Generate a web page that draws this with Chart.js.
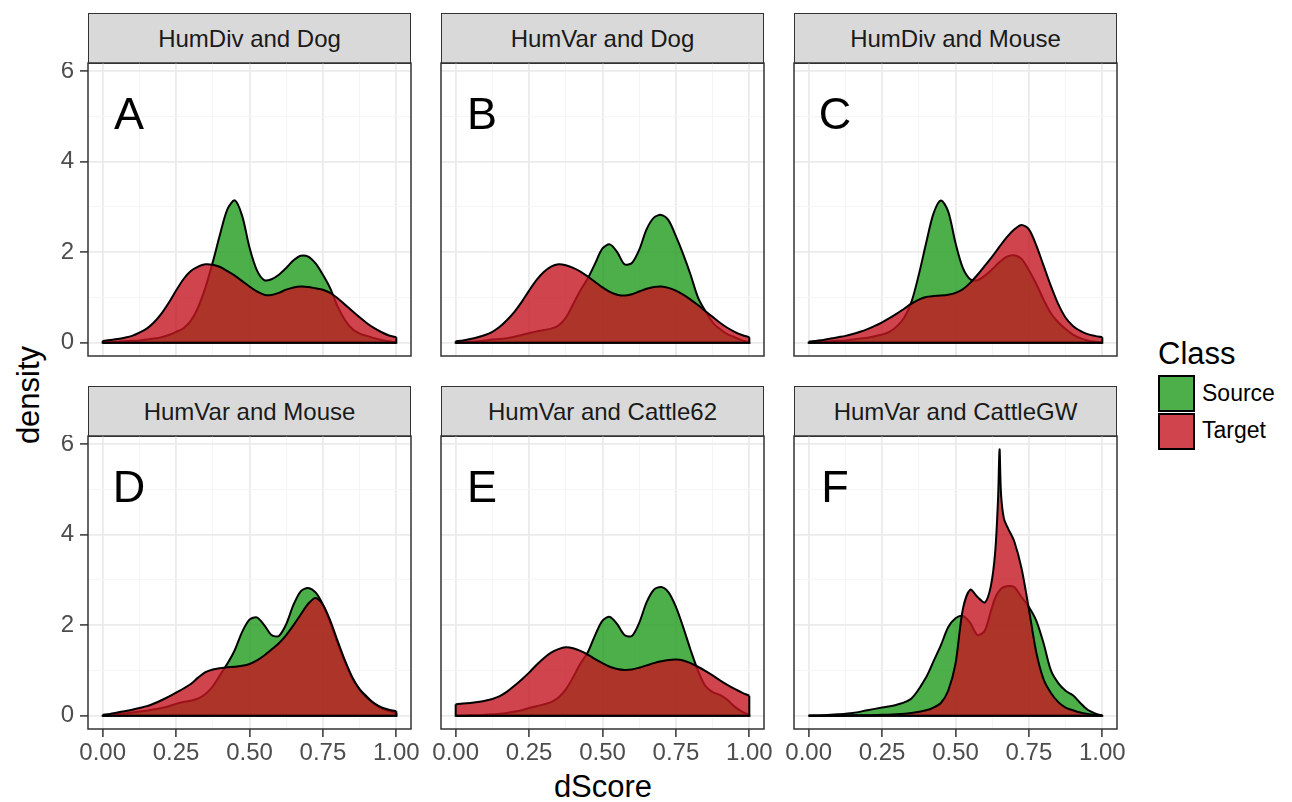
<!DOCTYPE html>
<html>
<head>
<meta charset="utf-8">
<script src="https://cdn.jsdelivr.net/npm/chart.js@4.4.1/dist/chart.umd.min.js"></script>
<style>
    body { margin: 0; background: #fff; width: 1292px; height: 802px; position: relative; overflow: hidden;
           font-family: "Liberation Sans", Arial, sans-serif; }
    canvas { position: absolute; }
    .strip { position: absolute; box-sizing: border-box; width: 323px; height: 51px; background: #d9d9d9;
             border: 1.5px solid #333; display: flex; align-items: center; justify-content: center;
             font-size: 24px; color: #1a1a1a; }
    .txt { position: absolute; white-space: nowrap; color: #000; }
    .key { position: absolute; box-sizing: border-box; width: 37px; height: 37px; border: 2px solid #000; }
</style>
</head>
<body>
<div class="txt" style="left:28px; top:395px; font-size:31px; line-height:31px; transform:translate(-50%,-50%) rotate(-90deg);">density</div>
<div class="txt" style="left:603px; top:771px; font-size:31px; line-height:31px; transform:translateX(-50%);">dScore</div>
<div class="txt" style="left:1158px; top:338px; font-size:31px; line-height:31px;">Class</div>
<div class="key" style="left:1158px; top:375px; background:rgba(31,155,29,0.8);"></div>
<div class="key" style="left:1158px; top:413px; background:rgba(196,21,32,0.8);"></div>
<div class="txt" style="left:1202px; top:382px; font-size:23px; line-height:23px;">Source</div>
<div class="txt" style="left:1202px; top:419px; font-size:23px; line-height:23px;">Target</div>

<script>
// x grid of the density estimates (panels A-E)
const dScore = [0, 0.025, 0.05, 0.075, 0.1, 0.125, 0.15, 0.175, 0.2, 0.225, 0.25, 0.275, 0.3, 0.325, 0.35, 0.375,
    0.4, 0.425, 0.45, 0.475, 0.5, 0.525, 0.55, 0.575, 0.6, 0.625, 0.65, 0.675, 0.7, 0.725, 0.75, 0.775, 0.8,
    0.825, 0.85, 0.875, 0.9, 0.925, 0.95, 0.975, 1];

const sourceA = [0, 0.01, 0.02, 0.03, 0.04, 0.05, 0.07, 0.09, 0.12, 0.17, 0.24, 0.32, 0.48, 0.78, 1.22, 1.78, 2.4, 2.95, 3.14, 2.8,
    2.1, 1.6, 1.38, 1.4, 1.5, 1.65, 1.82, 1.92, 1.9, 1.75, 1.5, 1.2, 0.8, 0.5, 0.3, 0.2, 0.15, 0.1, 0.06, 0.03, 0];
const targetA = [0.04, 0.06, 0.08, 0.11, 0.15, 0.22, 0.31, 0.45, 0.64, 0.88, 1.15, 1.4, 1.58, 1.68, 1.73, 1.72, 1.67, 1.58, 1.48, 1.36,
    1.24, 1.13, 1.06, 1.05, 1.1, 1.17, 1.22, 1.24, 1.23, 1.2, 1.17, 1.1, 0.98, 0.84, 0.7, 0.56, 0.43, 0.32, 0.23, 0.16, 0.12];

const sourceB = [0, 0.01, 0.02, 0.03, 0.05, 0.07, 0.08, 0.1, 0.13, 0.17, 0.21, 0.25, 0.28, 0.31, 0.38, 0.55, 0.85, 1.16, 1.42, 1.75,
    2.08, 2.17, 2.0, 1.73, 1.76, 2.05, 2.5, 2.76, 2.82, 2.7, 2.35, 1.95, 1.5, 1.0, 0.7, 0.45, 0.3, 0.19, 0.12, 0.05, 0.01];
const targetB = [0.03, 0.05, 0.08, 0.12, 0.17, 0.24, 0.35, 0.5, 0.68, 0.9, 1.15, 1.38, 1.56, 1.68, 1.73, 1.71, 1.65, 1.57, 1.46, 1.34,
    1.22, 1.12, 1.06, 1.04, 1.07, 1.13, 1.19, 1.23, 1.24, 1.21, 1.15, 1.06, 0.95, 0.83, 0.7, 0.57, 0.44, 0.33, 0.24, 0.17, 0.12];

const sourceC = [0, 0.01, 0.02, 0.03, 0.04, 0.05, 0.07, 0.09, 0.11, 0.14, 0.18, 0.24, 0.36, 0.55, 0.9, 1.5, 2.2, 2.85, 3.14, 2.9,
    2.2, 1.65, 1.4, 1.38, 1.48, 1.62, 1.78, 1.9, 1.93, 1.85, 1.6, 1.3, 0.95, 0.65, 0.45, 0.3, 0.18, 0.1, 0.05, 0.02, 0];
const targetC = [0.02, 0.04, 0.06, 0.09, 0.12, 0.15, 0.19, 0.24, 0.3, 0.37, 0.45, 0.54, 0.64, 0.75, 0.86, 0.95, 1.01, 1.03, 1.04, 1.06,
    1.1, 1.18, 1.32, 1.5, 1.7, 1.9, 2.12, 2.33, 2.5, 2.6, 2.5, 2.15, 1.7, 1.25, 0.85, 0.55, 0.37, 0.26, 0.19, 0.15, 0.12];

const sourceD = [0, 0.01, 0.03, 0.05, 0.07, 0.09, 0.11, 0.14, 0.17, 0.21, 0.26, 0.3, 0.33, 0.38, 0.48, 0.65, 0.9, 1.15, 1.45, 1.85,
    2.12, 2.17, 2.0, 1.78, 1.76, 2.02, 2.45, 2.75, 2.82, 2.72, 2.45, 2.05, 1.6, 1.18, 0.82, 0.58, 0.42, 0.26, 0.16, 0.1, 0.06];
const targetD = [0.02, 0.04, 0.07, 0.1, 0.13, 0.17, 0.21, 0.27, 0.34, 0.42, 0.51, 0.6, 0.7, 0.84, 0.96, 1.02, 1.05, 1.07, 1.08, 1.1,
    1.14, 1.22, 1.33, 1.46, 1.6, 1.78, 2.0, 2.24, 2.47, 2.6, 2.45, 2.1, 1.65, 1.22, 0.85, 0.58, 0.4, 0.27, 0.18, 0.13, 0.1];

const sourceE = [0, 0, 0.01, 0.01, 0.02, 0.03, 0.04, 0.06, 0.09, 0.12, 0.17, 0.21, 0.25, 0.3, 0.4, 0.58, 0.85, 1.15, 1.4, 1.78,
    2.1, 2.18, 2.02, 1.78, 1.76, 2.05, 2.5, 2.78, 2.84, 2.72, 2.4, 1.95, 1.45, 1.0, 0.66, 0.52, 0.46, 0.35, 0.2, 0.09, 0.02];
const targetE = [0.25, 0.27, 0.28, 0.3, 0.33, 0.37, 0.43, 0.53, 0.66, 0.8, 0.95, 1.12, 1.27, 1.39, 1.47, 1.51, 1.49, 1.43, 1.35, 1.25,
    1.16, 1.08, 1.03, 1.01, 1.02, 1.06, 1.11, 1.16, 1.2, 1.23, 1.24, 1.22, 1.16, 1.08, 0.99, 0.89, 0.78, 0.68, 0.59, 0.51, 0.44];

// panel F has a sharp spike, so it gets a finer grid around 0.65
const dScoreF = [0, 0.05, 0.1, 0.15, 0.2, 0.25, 0.3, 0.35, 0.4, 0.425, 0.45, 0.475, 0.5, 0.525, 0.55, 0.575, 0.6, 0.62, 0.635,
    0.645, 0.65, 0.655, 0.665, 0.68, 0.7, 0.725, 0.75, 0.775, 0.8, 0.825, 0.85, 0.875, 0.9, 0.925, 0.95, 0.975, 1];
const sourceF = [0, 0.01, 0.03, 0.06, 0.12, 0.18, 0.24, 0.38, 0.85, 1.2, 1.55, 1.95, 2.15, 2.2, 2.05, 1.78, 1.88, 2.3, 2.6,
    2.72, 2.76, 2.8, 2.84, 2.86, 2.84, 2.62, 2.4, 2.1, 1.6, 1.0, 0.72, 0.55, 0.45, 0.28, 0.13, 0.05, 0];
const targetF = [0, 0, 0, 0.01, 0.01, 0.02, 0.03, 0.06, 0.12, 0.18, 0.28, 0.55, 1.15, 2.35, 2.78, 2.62, 2.5, 2.85, 3.6,
    4.8, 5.88, 4.9, 4.35, 4.12, 3.85, 3.25, 2.35, 1.4, 0.8, 0.5, 0.3, 0.18, 0.12, 0.07, 0.04, 0.02, 0.01];

const panelTitles = ['HumDiv and Dog', 'HumVar and Dog', 'HumDiv and Mouse',
    'HumVar and Mouse', 'HumVar and Cattle62', 'HumVar and CattleGW'];
const panelLetters = ['A', 'B', 'C', 'D', 'E', 'F'];
const densityTicks = [0, 1, 2, 3, 4, 5, 6];
const scoreTicks = [0, 0.125, 0.25, 0.375, 0.5, 0.625, 0.75, 0.875, 1];

const panels = [
    { x: dScore, source: sourceA, target: targetA },
    { x: dScore, source: sourceB, target: targetB },
    { x: dScore, source: sourceC, target: targetC },
    { x: dScore, source: sourceD, target: targetD },
    { x: dScore, source: sourceE, target: targetE },
    { x: dScoreF, source: sourceF, target: targetF }
];

// layout
const PANEL_W = 323, PANEL_H = 293, STRIP_H = 51;
const colLeft = [88, 441, 794];
const rowTop = [63, 436];
const LEFT_W = 80, RIGHT_PAD = 30, BOTTOM_H = 45;
const X_MIN = -0.05, X_MAX = 1.05, Y_MIN = -0.294, Y_MAX = 6.174;
const FONT = '"Liberation Sans", Arial, sans-serif';

Chart.defaults.font.family = FONT;

function toPoints(xs, ys) {
    return xs.map((x, i) => ({ x: x, y: ys[i] }));
}

// closing edges of the density polygon (vertical ends + baseline)
function edgesOf(xs, ys) {
    const n = xs.length - 1;
    return [{ x: xs[0], y: ys[0] }, { x: xs[0], y: 0 }, { x: xs[n], y: 0 }, { x: xs[n], y: ys[n] }];
}

const panelDecor = {
    id: 'panelDecor',
    afterDatasetsDraw(chart, args, opts) {
        const { ctx, chartArea, scales } = chart;
        ctx.save();
        ctx.fillStyle = '#000';
        ctx.font = '45px ' + FONT;
        ctx.textAlign = 'center';
        ctx.textBaseline = 'middle';
        ctx.fillText(opts.letter, scales.x.getPixelForValue(0.09), scales.y.getPixelForValue(5));
        ctx.strokeStyle = '#333';
        ctx.lineWidth = 1.5;
        ctx.strokeRect(chartArea.left, chartArea.top, chartArea.right - chartArea.left, chartArea.bottom - chartArea.top);
        ctx.restore();
    }
};

const isMajorX = v => Math.abs(v * 4 - Math.round(v * 4)) < 1e-6;
const isMajorY = v => v % 2 === 0;

panels.forEach((p, i) => {
    const col = i % 3, row = Math.floor(i / 3);
    const showY = col === 0, showX = row === 1;

    const strip = document.createElement('div');
    strip.className = 'strip';
    strip.style.left = colLeft[col] + 'px';
    strip.style.top = (rowTop[row] - STRIP_H + 1) + 'px';
    strip.textContent = panelTitles[i];
    document.body.appendChild(strip);

    const canvas = document.createElement('canvas');
    canvas.width = LEFT_W + PANEL_W + RIGHT_PAD;
    canvas.height = 1 + PANEL_H + BOTTOM_H;
    canvas.style.left = (colLeft[col] - LEFT_W) + 'px';
    canvas.style.top = (rowTop[row] - 1) + 'px';
    document.body.appendChild(canvas);

    const curve = { borderColor: '#000', borderWidth: 2, pointRadius: 0, tension: 0.3, fill: 'origin' };
    const edge = { borderColor: '#000', borderWidth: 2, pointRadius: 0, tension: 0, fill: false };

    new Chart(canvas.getContext('2d'), {
        type: 'line',
        data: {
            datasets: [
                Object.assign({ label: 'Source', data: toPoints(p.x, p.source),
                    backgroundColor: 'rgba(31,155,29,0.8)', order: 4 }, curve),
                Object.assign({ label: 'Source edges', data: edgesOf(p.x, p.source), order: 3 }, edge),
                Object.assign({ label: 'Target', data: toPoints(p.x, p.target),
                    backgroundColor: 'rgba(196,21,32,0.8)', order: 2 }, curve),
                Object.assign({ label: 'Target edges', data: edgesOf(p.x, p.target), order: 1 }, edge)
            ]
        },
        options: {
            responsive: false,
            animation: false,
            devicePixelRatio: 1,
            layout: { padding: { top: 1, right: RIGHT_PAD, left: 0, bottom: 0 } },
            plugins: {
                legend: { display: false },
                tooltip: { enabled: false },
                panelDecor: { letter: panelLetters[i] }
            },
            scales: {
                x: {
                    type: 'linear',
                    min: X_MIN,
                    max: X_MAX,
                    afterBuildTicks: s => { s.ticks = scoreTicks.map(v => ({ value: v })); },
                    afterFit: s => { s.height = BOTTOM_H; s.paddingLeft = 0; s.paddingRight = 0; },
                    border: { display: false },
                    grid: {
                        color: c => (c.tick && isMajorX(c.tick.value)) ? '#ebebeb' : '#f5f5f5',
                        lineWidth: c => (c.tick && isMajorX(c.tick.value)) ? 1.8 : 1,
                        drawTicks: showX,
                        tickLength: 8,
                        tickWidth: 1.5,
                        tickColor: c => (c.tick && isMajorX(c.tick.value)) ? '#333' : 'rgba(0,0,0,0)'
                    },
                    ticks: {
                        display: showX,
                        autoSkip: false,
                        maxRotation: 0,
                        padding: 2,
                        color: '#4d4d4d',
                        font: { size: 24 },
                        callback: v => isMajorX(v) ? v.toFixed(2) : ''
                    }
                },
                y: {
                    type: 'linear',
                    min: Y_MIN,
                    max: Y_MAX,
                    afterBuildTicks: s => { s.ticks = densityTicks.map(v => ({ value: v })); },
                    afterFit: s => { s.width = LEFT_W; s.paddingTop = 0; s.paddingBottom = 0; },
                    border: { display: false },
                    grid: {
                        color: c => (c.tick && isMajorY(c.tick.value)) ? '#ebebeb' : '#f5f5f5',
                        lineWidth: c => (c.tick && isMajorY(c.tick.value)) ? 1.8 : 1,
                        drawTicks: showY,
                        tickLength: 8,
                        tickWidth: 1.5,
                        tickColor: c => (c.tick && isMajorY(c.tick.value)) ? '#333' : 'rgba(0,0,0,0)'
                    },
                    ticks: {
                        display: showY,
                        autoSkip: false,
                        padding: 6,
                        color: '#4d4d4d',
                        font: { size: 24 },
                        callback: v => isMajorY(v) ? String(v) : ''
                    }
                }
            }
        },
        plugins: [panelDecor]
    });
});
</script>
</body>
</html>
